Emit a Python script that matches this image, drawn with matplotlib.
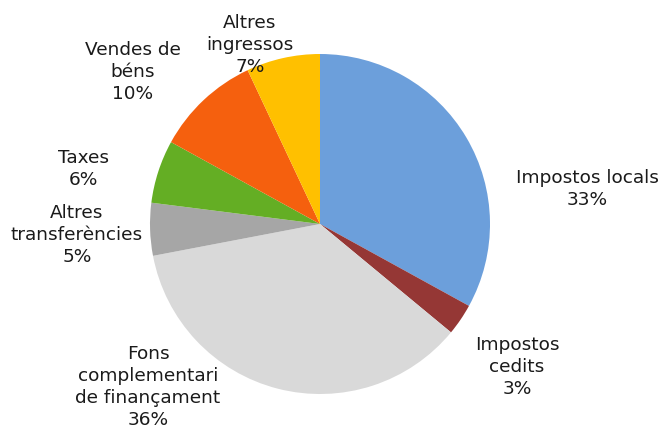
import matplotlib.pyplot as plt

labels = ['Impostos locals', 'Impostos\ncedits', 'Fons\ncomplementari\nde finançament',
          'Altres\ntransferències', 'Taxes', 'Vendes de\nbéns', 'Altres\ningressos']
values = [33, 3, 36, 5, 6, 10, 7]
colors = ['#6C9FDB', '#953735', '#D9D9D9', '#A6A6A6', '#64AE24', '#F5600E', '#FFC000']

# label block centres in pixel coords (from top-left)
label_pos = [(587, 189), (517, 367), (148, 387), (77, 235), (83, 169), (133, 72), (250, 45)]

W, H = 662, 430
fig = plt.figure(figsize=(W / 100, H / 100), dpi=100)
ax = fig.add_axes([0, 0, 1, 1])
ax.pie(values, colors=colors, startangle=90, counterclock=False,
       center=(320, H - 224), radius=170, frame=True,
       wedgeprops=dict(linewidth=0))
ax.set_xlim(0, W)
ax.set_ylim(0, H)
ax.set_aspect('equal')
ax.axis('off')

for lab, v, (px, py) in zip(labels, values, label_pos):
    ax.text(px, H - py, f'{lab}\n{v}%', ha='center', va='center',
            multialignment='center', fontsize=13.3, linespacing=1.3,
            color='#1a1a1a', family='DejaVu Sans')

fig.savefig('out.png', dpi=100)
